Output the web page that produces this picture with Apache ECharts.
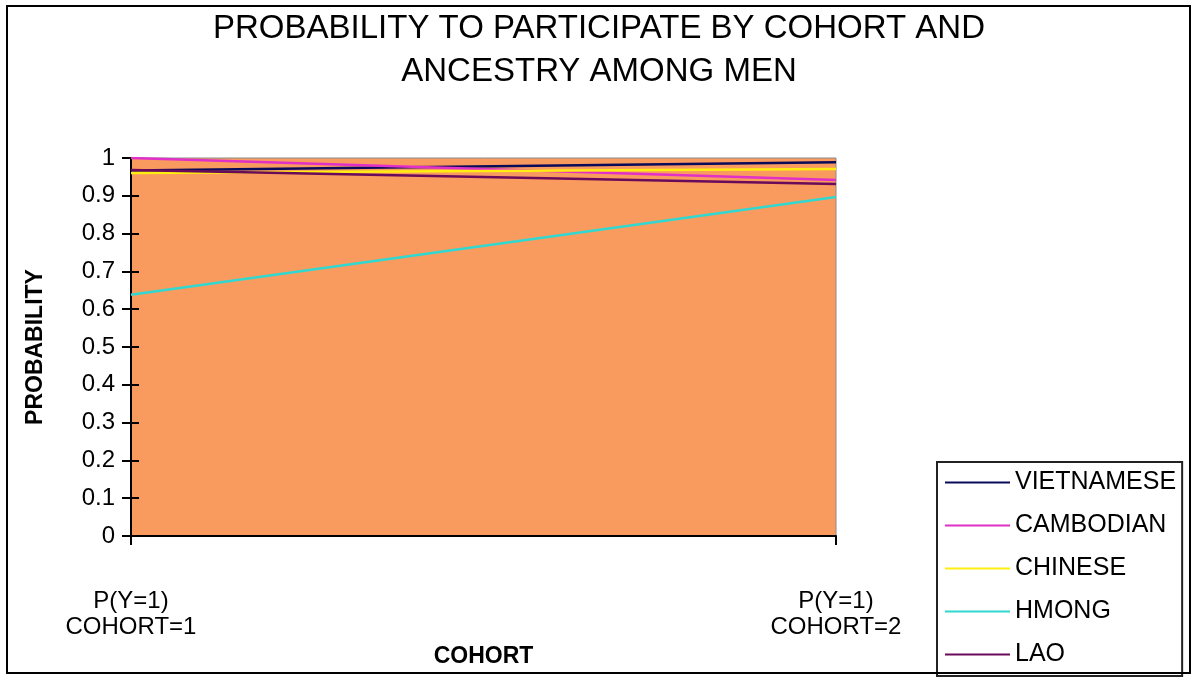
<!DOCTYPE html>
<html>
<head>
<meta charset="utf-8">
<title>Probability to participate by cohort and ancestry among men</title>
<script src="https://cdn.jsdelivr.net/npm/echarts@6/dist/echarts.min.js"></script>
<style>
  html, body { margin: 0; padding: 0; background: #ffffff; }
  #chart { width: 1192px; height: 682px; }
</style>
</head>
<body>
<div id="chart"></div>
<script>
// Cohort categories on the x axis
const categories = ['P(Y=1)\nCOHORT=1', 'P(Y=1)\nCOHORT=2'];

// Predicted probability of participation, one array per ancestry group
const vietnamese = [0.967, 0.989];
const cambodian  = [1.000, 0.942];
const chinese    = [0.960, 0.971];
const hmong      = [0.638, 0.897];
const lao        = [0.968, 0.931];

const seriesNames = ['VIETNAMESE', 'CAMBODIAN', 'CHINESE', 'HMONG', 'LAO'];
const seriesValues = [vietnamese, cambodian, chinese, hmong, lao];
const seriesColors = ['#0a0a5a', '#e030c8', '#ffee10', '#30d8d0', '#6a0a5a'];

const FONT = '"Liberation Sans", Arial, sans-serif';

const chart = echarts.init(document.getElementById('chart'), null, { renderer: 'canvas' });

chart.setOption({
  animation: false,
  backgroundColor: '#ffffff',
  title: {
    text: 'PROBABILITY TO PARTICIPATE BY COHORT AND\nANCESTRY AMONG MEN',
    left: 594,
    top: 2,
    textAlign: 'center',
    textStyle: {
      fontFamily: FONT,
      fontSize: 33,
      fontWeight: 'normal',
      color: '#000',
      lineHeight: 43
    }
  },
  legend: {
    orient: 'vertical',
    left: 937,
    top: 462,
    padding: [8, 6, 9, 8],
    borderColor: '#222',
    borderWidth: 2,
    backgroundColor: '#fff',
    icon: 'rect',
    itemWidth: 65,
    itemHeight: 2,
    itemGap: 18,
    data: seriesNames,
    textStyle: {
      fontFamily: FONT,
      fontSize: 25,
      color: '#000',
      lineHeight: 25,
      padding: [0, 0, 0, 0]
    }
  },
  grid: {
    left: 131,
    right: 356,
    top: 158,
    bottom: 146,
    show: true,
    backgroundColor: '#f99b5f',
    borderColor: '#8a8a8a',
    borderWidth: 1
  },
  xAxis: {
    type: 'category',
    data: categories,
    boundaryGap: false,
    name: 'COHORT',
    nameLocation: 'middle',
    nameGap: 107,
    nameTextStyle: { fontFamily: FONT, fontSize: 23, fontWeight: 'bold', color: '#000' },
    axisLine: { lineStyle: { color: '#000', width: 2 } },
    axisTick: { show: true, length: 9, interval: 0, lineStyle: { color: '#000', width: 2 } },
    axisLabel: {
      interval: 0,
      margin: 52,
      fontFamily: FONT,
      fontSize: 24,
      lineHeight: 26,
      color: '#000',
      showMinLabel: true,
      showMaxLabel: true
    },
    splitLine: { show: false }
  },
  yAxis: [
    {
      type: 'value',
      min: 0,
      max: 1,
      interval: 0.1,
      name: 'PROBABILITY',
      nameLocation: 'middle',
      nameGap: 84,
      nameRotate: 90,
      nameTextStyle: { fontFamily: FONT, fontSize: 23, fontWeight: 'bold', color: '#000' },
      axisLine: { show: true, lineStyle: { color: '#000', width: 2 } },
      axisTick: { show: true, length: 9, lineStyle: { color: '#000', width: 2 } },
      axisLabel: { margin: 16, fontFamily: FONT, fontSize: 24, color: '#000' },
      splitLine: { show: false }
    },
    {
      // inner half of the crossing tick marks
      type: 'value',
      position: 'left',
      min: 0,
      max: 1,
      interval: 0.1,
      axisLine: { show: false },
      axisTick: { show: true, inside: true, length: 8, lineStyle: { color: '#000', width: 2 } },
      axisLabel: { show: false },
      splitLine: { show: false }
    }
  ],
  series: seriesNames.map((name, i) => ({
    name: name,
    type: 'line',
    yAxisIndex: 0,
    data: seriesValues[i],
    symbol: 'none',
    color: seriesColors[i],
    lineStyle: { color: seriesColors[i], width: 2.5 }
  })),
  graphic: [
    {
      type: 'rect',
      shape: { x: 7, y: 6, width: 1183, height: 667 },
      style: { fill: null, stroke: '#000', lineWidth: 2 },
      silent: true,
      z: 100
    }
  ]
});
</script>
</body>
</html>
